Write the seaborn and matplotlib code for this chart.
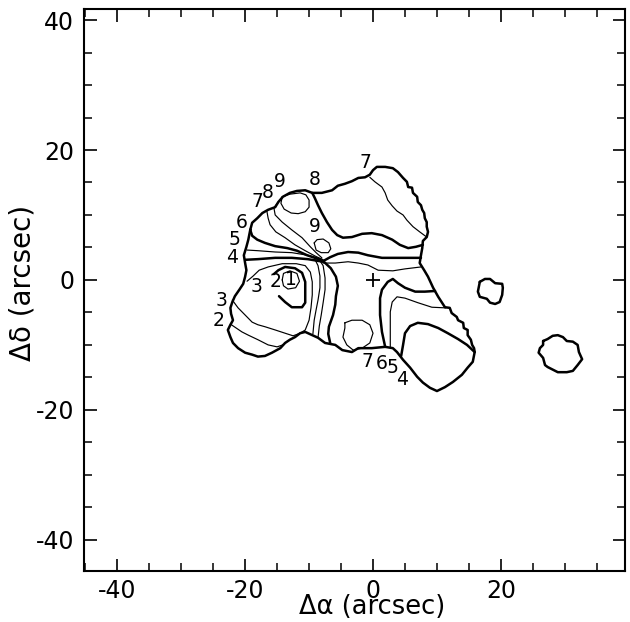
import matplotlib
matplotlib.use("Agg")
import matplotlib.pyplot as plt
from matplotlib.ticker import MultipleLocator, FixedLocator
import pandas as pd
import seaborn as sns

# ---------------- data (arcsec offsets) ----------------
outer_boundary = [(-19.2, 7.7), (-18.9, 8.8), (-18.1, 9.5), (-17.3, 10.3), (-16.4, 10.8), (-15.3, 11.2),
                  (-14.8, 12.0), (-14.1, 12.8), (-13.0, 13.4), (-11.9, 13.7), (-10.6, 13.8), (-9.5, 13.4),
                  (-8.0, 13.4), (-6.4, 13.8), (-5.5, 14.5), (-4.4, 14.8), (-3.3, 15.2), (-2.3, 15.7),
                  (-1.25, 15.8), (-0.5, 16.2), (0.0, 16.9), (0.6, 17.4), (1.9, 17.4), (3.1, 17.2),
                  (3.9, 16.6), (4.7, 15.7), (5.3, 15.1), (5.5, 14.3), (6.1, 14.2), (6.25, 13.4),
                  (6.9, 12.8), (7.0, 12.0), (7.5, 11.5), (7.7, 10.8), (8.0, 10.3), (8.1, 9.5),
                  (8.4, 8.9), (8.4, 8.2), (8.6, 7.4), (8.4, 6.6), (7.8, 6.0), (7.7, 4.9), (7.5, 3.8),
                  (7.3, 2.6), (8.0, 1.5), (8.6, 0.5), (9.4, -1.2), (10.2, -2.6), (11.25, -4.2),
                  (12.0, -4.3), (12.3, -5.1), (13.1, -5.7), (13.3, -6.2), (14.1, -6.6), (14.2, -7.4),
                  (14.8, -7.7), (14.8, -8.5), (15.3, -9.2), (15.5, -10.0), (15.8, -10.5), (15.9, -11.1),
                  (15.6, -12.6), (14.8, -13.5), (13.9, -14.6), (12.5, -15.7), (11.25, -16.5),
                  (10.0, -17.1), (8.9, -16.6), (7.8, -15.8), (6.9, -14.9), (5.8, -13.5), (4.7, -12.3),
                  (3.75, -11.1), (3.1, -10.5), (1.9, -10.3), (-0.2, -10.5), (-2.3, -10.5), (-3.3, -11.1),
                  (-4.8, -10.8), (-5.9, -10.0), (-7.5, -9.7), (-8.6, -8.9), (-9.5, -8.5), (-10.6, -8.0),
                  (-11.4, -8.2), (-12.2, -8.8), (-13.0, -9.2), (-13.75, -9.7), (-14.5, -10.5),
                  (-15.8, -11.2), (-16.9, -11.7), (-18.0, -11.8), (-18.9, -11.5), (-20.0, -11.2),
                  (-21.1, -10.5), (-21.9, -9.7), (-22.3, -8.8), (-22.7, -7.7), (-22.3, -6.9),
                  (-21.9, -6.2), (-22.2, -5.2), (-22.3, -4.3), (-22.0, -3.4), (-21.6, -2.5),
                  (-20.9, -1.5), (-20.3, -0.6), (-20.0, 0.5), (-19.8, 1.5), (-20.0, 2.6), (-20.2, 3.8),
                  (-19.8, 5.1), (-19.5, 6.2), (-19.2, 7.7)]

blob_east = [(16.7, -0.3), (17.5, 0.15), (18.3, 0.15), (19.1, -0.5), (20.2, -0.6), (20.3, -1.2),
             (20.2, -2.3), (19.8, -3.4), (19.1, -3.7), (18.3, -3.5), (17.8, -2.9), (16.7, -2.6),
             (16.4, -1.8), (16.6, -0.8), (16.7, -0.3)]

blob_southeast = [(26.6, -9.4), (27.3, -9.1), (28.1, -8.6), (28.9, -8.5), (29.7, -8.8), (30.3, -9.4),
                  (31.25, -9.5), (32.0, -10.0), (32.2, -11.1), (32.7, -12.2), (32.0, -13.1),
                  (31.25, -14.0), (30.3, -14.2), (28.9, -14.2), (28.1, -13.8), (27.3, -13.4),
                  (26.9, -13.1), (26.6, -12.0), (25.9, -11.2), (26.1, -10.5), (26.6, -10.0), (26.6, -9.4)]

# thick interior contours
contour8_north = [(-9.5, 13.4), (-9.1, 12.6), (-8.6, 11.5), (-8.0, 10.3), (-7.2, 8.9), (-6.4, 7.7),
                  (-5.6, 6.9), (-4.7, 6.5), (-3.3, 6.6), (-1.7, 7.1), (-0.2, 7.2), (1.4, 6.9),
                  (3.0, 6.2), (4.2, 5.4), (5.5, 4.9), (6.7, 5.1), (7.8, 5.4)]
contour6_west = [(-19.2, 7.7), (-18.9, 6.8), (-18.1, 6.2), (-16.9, 5.7), (-15.3, 5.2), (-13.4, 4.9),
                 (-11.9, 4.5), (-10.3, 3.8), (-9.1, 3.4), (-7.8, 2.9)]
contour4_west = [(-20.0, 3.1), (-18.0, 3.2), (-15.3, 3.4), (-12.7, 3.4), (-10.2, 3.2), (-7.8, 2.8)]
contour4_east = [(-7.8, 2.9), (-6.7, 3.5), (-5.5, 4.0), (-3.9, 4.3), (-2.3, 4.2), (-0.8, 3.8),
                 (1.4, 3.4), (3.4, 3.4), (5.5, 3.4), (7.5, 3.4)]
contour6_south = [(-7.8, 2.9), (-6.6, 1.8), (-5.8, 0.5), (-5.5, -0.9), (-5.8, -2.5), (-5.9, -3.8),
                  (-6.25, -5.4), (-6.9, -7.2), (-7.0, -8.3), (-6.7, -9.7)]
contour2_loop = [(-14.7, -2.5), (-13.75, -3.4), (-12.7, -4.2), (-11.1, -4.2), (-10.6, -3.5),
                 (-10.6, -1.8), (-10.6, -0.3), (-11.1, 1.1), (-12.2, 1.8), (-13.75, 2.0),
                 (-14.8, 1.5), (-15.5, 0.9)]
contour6_east = [(1.9, -10.3), (1.4, -8.0), (1.1, -5.4), (1.1, -2.8), (1.4, -1.5), (2.3, -0.3),
                 (3.1, 0.15), (3.9, -0.5), (5.0, -1.2), (6.6, -1.8), (8.1, -1.8), (9.7, -1.7)]
contour4_lobe = [(4.4, -11.7), (4.7, -10.0), (5.0, -8.2), (5.8, -7.1), (7.0, -6.6), (8.6, -6.8),
                 (10.2, -7.4), (11.7, -8.2), (13.3, -9.1), (14.7, -10.0), (15.9, -11.1)]

# thin interior contours
contour7_north = [(-0.5, 15.8), (0.3, 15.1), (1.4, 14.3), (1.9, 13.4), (2.3, 12.3), (3.0, 11.4),
                  (3.75, 10.6), (4.7, 10.0), (5.3, 9.2), (6.25, 8.2), (7.3, 7.4), (8.4, 6.6)]
contour9_loop_nw = [(-14.2, 12.8), (-14.4, 11.8), (-13.9, 10.9), (-12.8, 10.3), (-11.7, 10.2),
                    (-10.6, 10.5), (-10.0, 11.2), (-10.0, 12.3), (-10.5, 13.1), (-11.4, 13.4),
                    (-13.0, 13.2), (-14.2, 12.8)]
contour9_loop_small = [(-9.2, 5.7), (-8.9, 4.6), (-8.1, 4.2), (-7.0, 4.2), (-6.6, 4.8), (-6.9, 5.7),
                       (-7.8, 6.3), (-8.75, 6.2), (-9.2, 5.7)]
contour8_west = [(-14.8, 12.0), (-15.5, 11.1), (-15.3, 10.0), (-14.2, 8.9), (-12.7, 7.7), (-11.1, 6.5),
                 (-9.8, 5.1), (-8.9, 4.2), (-8.0, 3.4)]
contour7_west = [(-16.6, 10.6), (-16.4, 9.5), (-16.1, 8.5), (-15.2, 7.4), (-13.75, 6.5), (-12.2, 5.4),
                 (-10.6, 4.5), (-9.1, 3.7), (-7.8, 3.1)]
contour5_west = [(-19.7, 4.6), (-18.0, 4.5), (-15.3, 4.3), (-12.7, 4.2), (-10.2, 3.8), (-8.0, 3.2)]
contour5_east = [(-7.8, 2.6), (-5.9, 2.6), (-3.9, 2.8), (-2.3, 2.6), (-0.8, 2.3), (0.8, 1.5),
                 (3.1, 1.4), (5.0, 1.7), (7.5, 2.0)]
contour7_south = [(-9.1, 3.2), (-8.6, 2.2), (-8.3, 0.6), (-8.3, -1.2), (-8.6, -3.1), (-8.9, -4.6),
                  (-9.2, -6.2), (-9.4, -8.3)]
contour8_south = [(-8.6, 3.4), (-7.8, 2.2), (-7.5, 0.3), (-7.5, -1.5), (-7.8, -3.5), (-8.1, -5.4),
                  (-8.4, -7.1), (-8.6, -8.9)]
contour3_loop = [(-19.7, -0.2), (-18.75, 0.6), (-17.8, 1.5), (-16.4, 2.0), (-14.2, 2.5), (-12.0, 2.5),
                 (-10.6, 2.2), (-9.8, 1.2), (-9.5, -0.3), (-9.5, -2.3), (-9.7, -4.3), (-10.0, -6.2),
                 (-10.6, -7.7), (-11.4, -8.2)]
contour3_sw = [(-22.0, -3.1), (-21.1, -4.3), (-20.0, -5.4), (-18.9, -6.5), (-18.0, -6.9), (-16.9, -7.2),
               (-15.3, -7.7), (-13.75, -8.2), (-12.5, -8.6), (-11.4, -8.2)]
contour2_sw = [(-22.3, -6.8), (-21.4, -7.4), (-20.5, -8.0), (-19.5, -8.5), (-18.0, -9.2), (-16.4, -10.0),
               (-15.0, -10.3), (-14.1, -10.0)]
contour1_loop = [(-14.2, 0.0), (-14.0, 1.0), (-13.0, 1.4), (-11.9, 1.0), (-11.5, -0.2), (-12.1, -1.2),
                 (-13.3, -1.4), (-14.0, -0.9), (-14.2, 0.0)]
contour7_circle = [(-4.4, -6.6), (-3.3, -6.2), (-1.7, -6.2), (-0.5, -6.9), (0.0, -8.2), (-0.5, -9.7),
                   (-1.7, -10.5), (-3.1, -10.8), (-4.1, -10.0), (-4.7, -8.8), (-4.4, -7.4), (-4.4, -6.6)]
contour5_east_low = [(2.7, -10.5), (2.7, -8.0), (2.7, -4.9), (3.0, -3.4), (3.75, -2.6), (5.0, -2.8),
                     (7.0, -3.5), (9.2, -4.2), (11.4, -4.3)]

# contour level labels
label_text = ["9", "8", "7", "6", "5", "4", "3", "2", "8", "7", "9", "3", "2", "1", "7", "6", "5", "4"]
label_x = [-14.5, -16.4, -18.1, -20.5, -21.6, -22.0, -23.75, -24.2, -9.1, -1.25, -9.1, -18.2, -15.3,
           -12.9, -0.9, 1.4, 3.1, 4.5]
label_y = [15.1, 13.5, 12.0, 8.9, 6.2, 3.4, -3.1, -6.2, 15.4, 18.0, 8.2, -1.0, -0.3, 0.0, -12.6,
           -12.8, -13.5, -15.4]

# reference position
center_x = [0.0]
center_y = [0.0]

x_major = [-40, -20, 0, 20]
y_major = [-40, -20, 0, 20, 40]

# ---------------- plotting ----------------
sns.set_theme(style="ticks")
plt.rcParams['font.family'] = ['DejaVu Sans']
plt.rcParams['axes.unicode_minus'] = False

fig = plt.figure(figsize=(6.30, 6.22), dpi=100)
ax = fig.add_axes([0.1333, 0.0820, 0.8587, 0.9035])

THICK = 1.8
THIN = 0.85


def draw(pts, lw):
    df = pd.DataFrame(pts, columns=["x", "y"])
    sns.lineplot(data=df, x="x", y="y", sort=False, estimator=None, color="black",
                 linewidth=lw, ax=ax, legend=False)


for pts in [outer_boundary, blob_east, blob_southeast, contour8_north, contour6_west, contour4_west,
            contour4_east, contour6_south, contour2_loop, contour6_east, contour4_lobe]:
    draw(pts, THICK)

for pts in [contour7_north, contour9_loop_nw, contour9_loop_small, contour8_west, contour7_west,
            contour5_west, contour5_east, contour7_south, contour8_south, contour3_loop, contour3_sw,
            contour2_sw, contour1_loop, contour7_circle, contour5_east_low]:
    draw(pts, THIN)

sns.scatterplot(x=center_x, y=center_y, marker="+", s=100, color="black", linewidth=1.3, ax=ax,
                legend=False)

for t, x, y in zip(label_text, label_x, label_y):
    ax.text(x, y, t, fontsize=13.5, ha="center", va="center", color="black")

ax.set_xlim(-45.2, 39.4)
ax.set_ylim(-44.8, 41.7)
ax.xaxis.set_major_locator(FixedLocator(x_major))
ax.yaxis.set_major_locator(FixedLocator(y_major))
ax.xaxis.set_minor_locator(MultipleLocator(5))
ax.yaxis.set_minor_locator(MultipleLocator(5))
ax.tick_params(which="both", direction="in", top=True, right=True, colors="black",
               labelcolor="black")
ax.tick_params(which="major", length=9, width=1.2, labelsize=17)
ax.tick_params(which="minor", length=5.5, width=1.1)
ax.tick_params(axis="x", which="major", pad=6)
ax.tick_params(axis="y", which="major", pad=7)
for s in ax.spines.values():
    s.set_linewidth(1.5)
    s.set_color("black")
    s.set_visible(True)

ax.set_xlabel("Δα (arcsec)", fontsize=18.5, color="black")
ax.set_ylabel("Δδ (arcsec)", fontsize=20, color="black")
ax.xaxis.set_label_coords(0.532, -0.087)
ax.xaxis.label.set_verticalalignment("bottom")
ax.yaxis.set_label_coords(-0.088, 0.512)

fig.savefig("out.png", dpi=100)
